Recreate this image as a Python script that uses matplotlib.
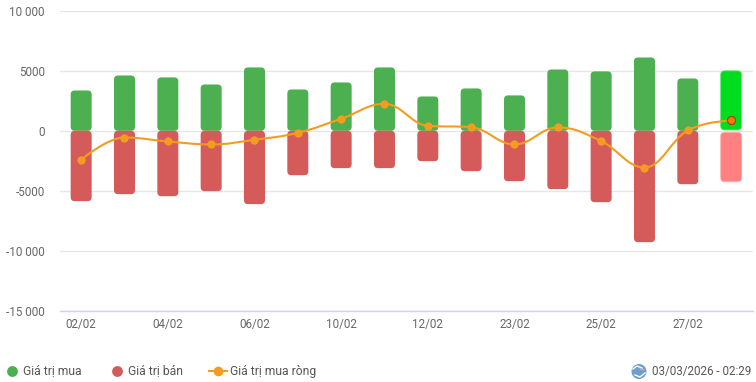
import matplotlib
matplotlib.use('Agg')
import matplotlib.pyplot as plt
from matplotlib.patches import FancyBboxPatch, Circle, PathPatch
from matplotlib.path import Path

plt.rcParams['font.family'] = ['Roboto', 'DejaVu Sans']

W, H = 756, 382

# du lieu doc tu hinh
dates = ['02/02', '03/02', '04/02', '05/02', '06/02', '09/02', '10/02', '11/02',
         '12/02', '13/02', '23/02', '24/02', '25/02', '26/02', '27/02', '02/03']
buy = [3360, 4610, 4450, 3860, 5280, 3445, 4030, 5280,
       2860, 3530, 2950, 5110, 4950, 6110, 4360, 5000]
sell = [-5860, -5280, -5450, -5030, -6110, -3700, -3110, -3110,
        -2530, -3360, -4200, -4860, -5950, -9280, -4450, -4250]
net = [-2420, -560, -890, -1140, -750, -170, 1000, 2250,
       420, 300, -1140, 280, -860, -3060, 30, 860]
y_ticks = [10000, 5000, 0, -5000, -10000, -15000]
y_labels = ['10 000', '5000', '0', '-5000', '-10 000', '-15 000']

GREEN = '#4caf50'
RED = '#d55a5a'
ORANGE = '#f39c1f'
TEXT = '#666666'
GRID = '#e6e6e6'


def spline_path(xs, ys, smoothing=1.5):
    # duong cong kieu spline cua highcharts
    denom = smoothing + 1
    verts = [(xs[0], ys[0])]
    codes = [Path.MOVETO]
    n = len(xs)
    conts = []
    for i in range(n):
        if i == 0 or i == n - 1:
            conts.append(((xs[i], ys[i]), (xs[i], ys[i])))
            continue
        x, y = xs[i], ys[i]
        lx, ly = xs[i - 1], ys[i - 1]
        nx, ny = xs[i + 1], ys[i + 1]
        lcx = (smoothing * x + lx) / denom
        lcy = (smoothing * y + ly) / denom
        rcx = (smoothing * x + nx) / denom
        rcy = (smoothing * y + ny) / denom
        corr = (rcy - lcy) * (rcx - x) / (rcx - lcx) + y - rcy
        lcy += corr
        rcy += corr
        if lcy > ly and lcy > y:
            lcy = max(ly, y)
            rcy = 2 * y - lcy
        elif lcy < ly and lcy < y:
            lcy = min(ly, y)
            rcy = 2 * y - lcy
        if rcy > ny and rcy > y:
            rcy = max(ny, y)
            lcy = 2 * y - rcy
        elif rcy < ny and rcy < y:
            rcy = min(ny, y)
            lcy = 2 * y - rcy
        conts.append(((lcx, lcy), (rcx, rcy)))
    for i in range(1, n):
        verts += [conts[i - 1][1], conts[i][0], (xs[i], ys[i])]
        codes += [Path.CURVE4] * 3
    return Path(verts, codes)


fig = plt.figure(figsize=(W / 100, H / 100), dpi=100)
fig.patch.set_facecolor('white')

ax_left, ax_right = 59.5, 752.8
ax_top, ax_bottom = 10.8, 310.8
ax = fig.add_axes([ax_left / W, 1 - ax_bottom / H,
                   (ax_right - ax_left) / W, (ax_bottom - ax_top) / H])
ax.set_xlim(-0.5, len(dates) - 0.5)
ax.set_ylim(-15000, 10000)

px_x = (len(dates)) / (ax_right - ax_left)
px_y = 25000 / (ax_bottom - ax_top)
bar_w = 21 * px_x
radius = 4 * px_x
aspect = px_y / px_x


def rounded_bar(i, y0, y1, color, edge='none', lw=0, z=3):
    box = FancyBboxPatch((i - bar_w / 2, min(y0, y1)), bar_w, abs(y1 - y0),
                         boxstyle=f'round,pad=0,rounding_size={radius}',
                         mutation_aspect=aspect, facecolor=color,
                         edgecolor=edge, linewidth=lw, zorder=z)
    ax.add_patch(box)


last = len(dates) - 1
for i in range(len(dates)):
    if i == last:
        rounded_bar(i, 70, buy[i], '#00dc1e', edge='#66e878', lw=0.6)
        rounded_bar(i, -120, sell[i], '#ff8080', edge='#ffb3b3', lw=0.6)
    else:
        rounded_bar(i, 0, buy[i], GREEN)
        rounded_bar(i, 0, sell[i], RED)

xs = list(range(len(dates)))
ax.add_patch(PathPatch(spline_path(xs, net), fill=False, edgecolor=ORANGE,
                       linewidth=1.5, zorder=4))
ax.plot(xs[:-1], net[:-1], ls='none', marker='o', ms=6, mfc=ORANGE, mec='none', zorder=5)
ax.plot(xs[-1], net[-1], ls='none', marker='o', ms=5.8, mfc='#f57c00', mec='#a33a10',
        mew=0.8, zorder=5)

for s in ['top', 'left', 'right', 'bottom']:
    ax.spines[s].set_visible(False)
ax.set_axisbelow(True)
ax.set_yticks(y_ticks)
ax.set_yticklabels(y_labels, fontsize=8.4, color=TEXT)
ax.grid(axis='y', color=GRID, linewidth=1)
ax.grid(axis='x', visible=False)
ax.tick_params(axis='y', length=0, pad=10.6)
ax.set_xticks(xs[::2])
ax.set_xticklabels(dates[::2], fontsize=8.4, color=TEXT)
ax.tick_params(axis='x', length=0, pad=5.5)
ax.axhline(-15000, color='#ccd6eb', linewidth=1, zorder=2, clip_on=False)

# chu thich va nhan thoi gian, toa do pixel
ov = fig.add_axes([0, 0, 1, 1], facecolor='none')
ov.set_xlim(0, W)
ov.set_ylim(H, 0)
ov.axis('off')
leg_y = 371
ov.plot(12, leg_y, 'o', ms=7.8, mfc=GREEN, mec='none')
ov.text(23, leg_y, 'Giá trị mua', fontsize=8.7, color='#555555', va='center')
ov.plot(117, leg_y, 'o', ms=7.8, mfc=RED, mec='none')
ov.text(128, leg_y, 'Giá trị bán', fontsize=8.7, color='#555555', va='center')
ov.plot([209, 227], [leg_y, leg_y], color=ORANGE, lw=1.5)
ov.plot(218, leg_y, 'o', ms=7, mfc=ORANGE, mec='none')
ov.text(229.5, leg_y, 'Giá trị mua ròng', fontsize=8.7, color='#555555', va='center')
ov.text(751, leg_y, '03/03/2026 - 02:29', fontsize=8.4, color='#555555', va='center', ha='right')

# icon qua dia cau
ov.add_patch(Circle((639, 371.5), 7.5, facecolor='#6d9fcc', edgecolor='none'))
ov.plot([633, 637, 642], [369, 366, 368], color='white', lw=1)
ov.plot([635, 640, 645], [375, 377, 373], color='white', lw=1)
ov.plot([640, 644], [369, 370], color='#e8a0a0', lw=0.8)

fig.savefig('out.png', dpi=100, facecolor='white')
